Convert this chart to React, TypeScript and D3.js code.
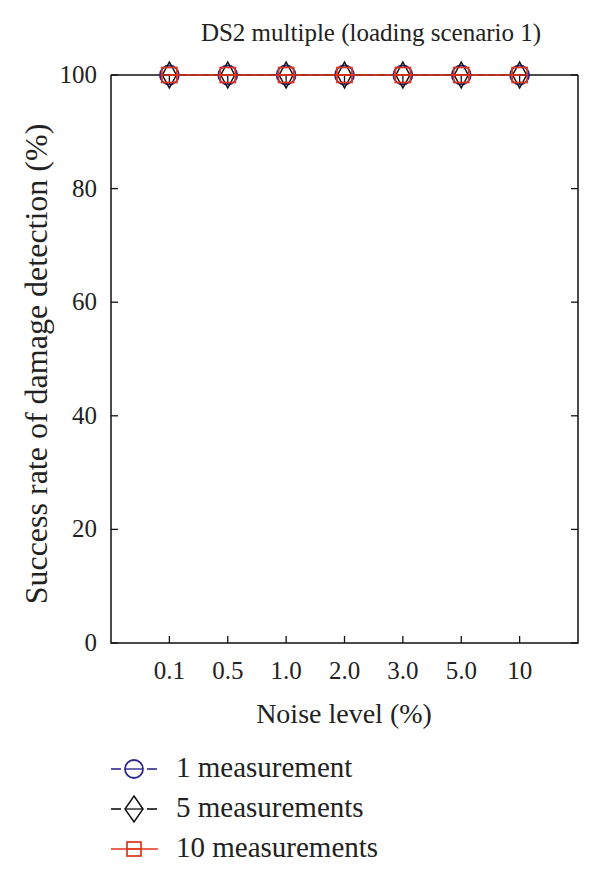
import React from "react";
import * as d3 from "d3";

const categories = ["0.1", "0.5", "1.0", "2.0", "3.0", "5.0", "10"];
const series1 = [100, 100, 100, 100, 100, 100, 100];
const series5 = [100, 100, 100, 100, 100, 100, 100];
const series10 = [100, 100, 100, 100, 100, 100, 100];
const yTicks = [0, 20, 40, 60, 80, 100];
const seriesNames = ["1 measurement", "5 measurements", "10 measurements"];
const title = "DS2 multiple (loading scenario 1)";
const xLabel = "Noise level (%)";
const yLabel = "Success rate of damage detection (%)";

const W = 600, H = 879;
const L = 111, R = 578, T = 75, B = 643;
const FONT = "Liberation Serif, Times New Roman, DejaVu Serif, serif";
const BLUE = "#2e2a8c";
const RED = "#e0341c";
const TXT = { fontFamily: FONT } as React.CSSProperties;

function Marker({ kind, x, y, color, legend }: { kind: string; x: number; y: number; color: string; legend?: boolean }) {
  if (kind === "circle") {
    const r = legend ? 9 : 9.5;
    return (
      <g>
        <circle cx={x} cy={y} r={r} fill="none" stroke={color} strokeWidth={1.8} />
        <line x1={x - r} x2={x + r} y1={y} y2={y} stroke={color} strokeWidth={1.4} />
      </g>
    );
  }
  if (kind === "diamond") {
    const hw = legend ? 9 : 7;
    const hh = 13;
    return (
      <g>
        <path d={`M${x},${y - hh} L${x + hw},${y} L${x},${y + hh} L${x - hw},${y} Z`} fill="none" stroke={color} strokeWidth={1.5} />
        <line x1={x - hw} x2={x + hw} y1={y} y2={y} stroke={color} strokeWidth={1.3} />
        {!legend && <line x1={x} x2={x} y1={y} y2={y + 9} stroke={color} strokeWidth={1.3} />}
      </g>
    );
  }
  const h = legend ? 7 : 7.5;
  return (
    <g>
      <rect x={x - h} y={y - h} width={2 * h} height={2 * h} fill="none" stroke={color} strokeWidth={1.7} />
      <line x1={x - h} x2={x + h} y1={y} y2={y} stroke={color} strokeWidth={1.4} />
    </g>
  );
}

export default function App() {
  const x = d3.scaleLinear().domain([0, categories.length + 1]).range([L, R]);
  const y = d3.scaleLinear().domain([0, 100]).range([B, T]);
  const line = d3
    .line<number>()
    .x((_, i) => x(i + 1))
    .y((d) => y(d));

  const allSeries = [
    { data: series1, color: BLUE, kind: "circle", dash: "6,5" },
    { data: series5, color: "#111", kind: "diamond", dash: "6,5" },
    { data: series10, color: RED, kind: "square", dash: "" },
  ];

  const legendY = [769, 809, 849];

  return (
    <svg width={W} height={H} style={{ position: "absolute", left: 0, top: 0, background: "#fff", fontFamily: FONT }}>
      <rect x={0} y={0} width={W} height={H} fill="#fff" />
      <text x={371} y={41} fontSize={25} textAnchor="middle" fill="#222" style={TXT}>{title}</text>

      <path d={`M${L},${T} L${L},${B} L${R},${B} L${R},${T}`} fill="none" stroke="#111" strokeWidth={1.5} />
      <line x1={L} x2={R} y1={T} y2={T} stroke="#111" strokeWidth={1.5} />

      {yTicks.map((t) => (
        <g key={t}>
          <line x1={L} x2={L + 7} y1={y(t)} y2={y(t)} stroke="#111" strokeWidth={1.3} />
          <line x1={R} x2={R - 7} y1={y(t)} y2={y(t)} stroke="#111" strokeWidth={1.3} />
          <text x={97} y={y(t) + 8} fontSize={25} textAnchor="end" fill="#222" style={TXT}>{t}</text>
        </g>
      ))}
      {categories.map((c, i) => (
        <g key={c}>
          <line x1={x(i + 1)} x2={x(i + 1)} y1={B} y2={B - 7} stroke="#111" strokeWidth={1.3} />
          <text x={x(i + 1)} y={679} fontSize={25} textAnchor="middle" fill="#222" style={TXT}>{c}</text>
        </g>
      ))}

      <text x={344} y={723} fontSize={28} textAnchor="middle" fill="#222" style={TXT}>{xLabel}</text>
      <text transform={`translate(47,364) rotate(-90)`} fontSize={32} textAnchor="middle" fill="#222" style={TXT}>{yLabel}</text>

      {allSeries.map((s, si) => (
        <g key={si}>
          <path d={line(s.data) || ""} fill="none" stroke={s.color} strokeWidth={1.6} strokeDasharray={s.dash || undefined} />
          {s.data.map((v, i) => (
            <Marker key={i} kind={s.kind} x={x(i + 1)} y={y(v)} color={s.color} />
          ))}
        </g>
      ))}

      {allSeries.map((s, si) => (
        <g key={"lg" + si}>
          {s.dash ? (
            <>
              <line x1={111} x2={121} y1={legendY[si]} y2={legendY[si]} stroke={s.color} strokeWidth={1.6} />
              <line x1={147} x2={157} y1={legendY[si]} y2={legendY[si]} stroke={s.color} strokeWidth={1.6} />
            </>
          ) : (
            <line x1={111} x2={158} y1={legendY[si]} y2={legendY[si]} stroke={s.color} strokeWidth={1.6} />
          )}
          <Marker kind={s.kind} x={134} y={legendY[si]} color={s.color} legend />
          <text x={176} y={legendY[si] + 8} fontSize={29} fill="#222" style={TXT}>{seriesNames[si]}</text>
        </g>
      ))}
    </svg>
  );
}
